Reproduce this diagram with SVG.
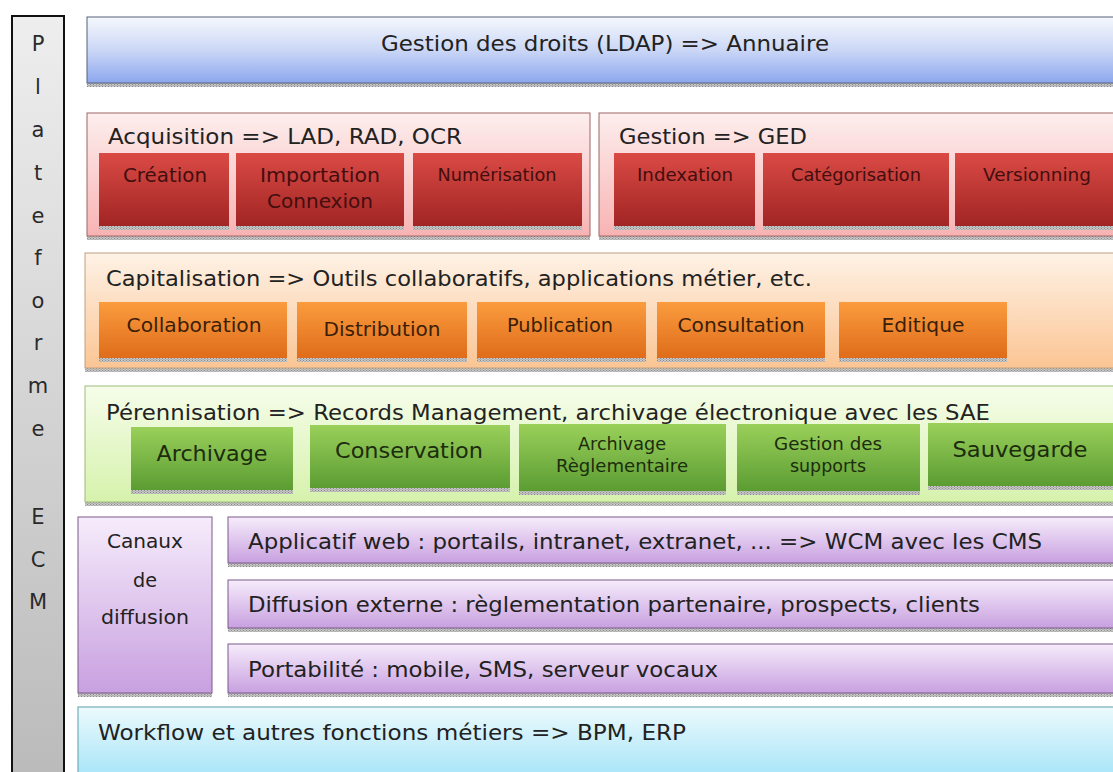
<svg xmlns="http://www.w3.org/2000/svg" width="1113" height="772" viewBox="0 0 1113 772">
<defs>
<style>
.t{font-family:"DejaVu Sans","Liberation Sans",sans-serif;fill:#222}
.tm{text-anchor:middle}
.lbl{font-family:"DejaVu Sans","Liberation Sans",sans-serif;text-anchor:middle}
.red{fill:#420e0e}
.org{fill:#3b1e08}
.grn{fill:#1c2c0e}
.side{font-family:"DejaVu Sans","Liberation Sans",sans-serif;font-size:21px;fill:#2a2a2a;text-anchor:middle}
.sh{fill:url(#dots)}
</style>
<pattern id="dots" width="3" height="2" patternUnits="userSpaceOnUse">
<rect width="3" height="2" fill="#c8c8c8"/>
<rect x="0" y="0" width="1" height="1" fill="#8a8a8a"/>
<rect x="1.5" y="1" width="1" height="1" fill="#9a9a9a"/>
</pattern>
<linearGradient id="gGray" x1="0" y1="0" x2="0" y2="1"><stop offset="0" stop-color="#eeeeee"/><stop offset="1" stop-color="#bababa"/></linearGradient>
<linearGradient id="gBlue" x1="0" y1="0" x2="0" y2="1"><stop offset="0" stop-color="#f6f8fd"/><stop offset="0.5" stop-color="#cbd7f6"/><stop offset="1" stop-color="#8ca7ee"/></linearGradient>
<linearGradient id="gPink" x1="0" y1="0" x2="0" y2="1"><stop offset="0" stop-color="#fdeeee"/><stop offset="1" stop-color="#f8b3b3"/></linearGradient>
<linearGradient id="gRed" x1="0" y1="0" x2="0" y2="1"><stop offset="0" stop-color="#db4a45"/><stop offset="1" stop-color="#a02524"/></linearGradient>
<linearGradient id="gPeach" x1="0" y1="0" x2="0" y2="1"><stop offset="0" stop-color="#fef2e6"/><stop offset="1" stop-color="#fbc594"/></linearGradient>
<linearGradient id="gOrange" x1="0" y1="0" x2="0" y2="1"><stop offset="0" stop-color="#fb9c3e"/><stop offset="1" stop-color="#df6c1a"/></linearGradient>
<linearGradient id="gLime" x1="0" y1="0" x2="0" y2="1"><stop offset="0" stop-color="#f6fdea"/><stop offset="1" stop-color="#d6f2ac"/></linearGradient>
<linearGradient id="gGreen" x1="0" y1="0" x2="0" y2="1"><stop offset="0" stop-color="#9ad05a"/><stop offset="1" stop-color="#5b9c33"/></linearGradient>
<linearGradient id="gPurple" x1="0" y1="0" x2="0" y2="1"><stop offset="0" stop-color="#f6ecfb"/><stop offset="1" stop-color="#c8a0e0"/></linearGradient>
<linearGradient id="gCyan" x1="0" y1="0" x2="0" y2="1"><stop offset="0" stop-color="#ecfafd"/><stop offset="1" stop-color="#9de1f7"/></linearGradient>
</defs>
<rect width="1113" height="772" fill="#ffffff"/>

<g id="plateforme">
<rect x="12" y="16" width="52" height="770" fill="url(#gGray)" stroke="#111" stroke-width="2"/>
<text class="side" x="38" y="51">P</text>
<text class="side" x="38" y="94">l</text>
<text class="side" x="38" y="137">a</text>
<text class="side" x="38" y="180">t</text>
<text class="side" x="38" y="223">e</text>
<text class="side" x="38" y="265">f</text>
<text class="side" x="38" y="308">o</text>
<text class="side" x="38" y="350">r</text>
<text class="side" x="38" y="393">m</text>
<text class="side" x="38" y="436">e</text>
<text class="side" x="38" y="524">E</text>
<text class="side" x="38" y="567">C</text>
<text class="side" x="38" y="609">M</text>
</g>

<g id="droits">
<rect class="sh" x="87" y="83" width="1043" height="4"/>
<rect x="87" y="17" width="1043" height="66" fill="url(#gBlue)" stroke="#56617e" stroke-width="1"/>
<text class="t" x="381" y="51" font-size="21" textLength="448" lengthAdjust="spacingAndGlyphs">Gestion des droits (LDAP) =&gt; Annuaire</text>
</g>

<g id="acquisition">
<rect class="sh" x="87" y="236" width="503" height="4"/>
<rect x="87" y="113" width="503" height="123" fill="url(#gPink)" stroke="#a06464" stroke-width="1"/>
<text class="t" x="108" y="144" font-size="21" textLength="354" lengthAdjust="spacingAndGlyphs">Acquisition =&gt; LAD, RAD, OCR</text>
<g id="creation">
<rect class="sh" x="99" y="226" width="130" height="4"/>
<rect x="99" y="153" width="130" height="73" fill="url(#gRed)"/>
<text class="lbl red" x="165" y="182" font-size="19" textLength="84" lengthAdjust="spacingAndGlyphs">Création</text>
</g>
<g id="importation">
<rect class="sh" x="236" y="226" width="168" height="4"/>
<rect x="236" y="153" width="168" height="73" fill="url(#gRed)"/>
<text class="lbl red" x="320" y="182" font-size="19" textLength="120" lengthAdjust="spacingAndGlyphs">Importation</text>
<text class="lbl red" x="320" y="208" font-size="19" textLength="106" lengthAdjust="spacingAndGlyphs">Connexion</text>
</g>
<g id="numerisation">
<rect class="sh" x="413" y="226" width="169" height="4"/>
<rect x="413" y="153" width="169" height="73" fill="url(#gRed)"/>
<text class="lbl red" x="497" y="181" font-size="17" textLength="119" lengthAdjust="spacingAndGlyphs">Numérisation</text>
</g>
</g>

<g id="gestion">
<rect class="sh" x="599" y="236" width="531" height="4"/>
<rect x="599" y="113" width="531" height="123" fill="url(#gPink)" stroke="#a06464" stroke-width="1"/>
<text class="t" x="619" y="144" font-size="21" textLength="188" lengthAdjust="spacingAndGlyphs">Gestion =&gt; GED</text>
<g id="indexation">
<rect class="sh" x="614" y="226" width="141" height="4"/>
<rect x="614" y="153" width="141" height="73" fill="url(#gRed)"/>
<text class="lbl red" x="685" y="181" font-size="17" textLength="96" lengthAdjust="spacingAndGlyphs">Indexation</text>
</g>
<g id="categorisation">
<rect class="sh" x="763" y="226" width="186" height="4"/>
<rect x="763" y="153" width="186" height="73" fill="url(#gRed)"/>
<text class="lbl red" x="856" y="181" font-size="17" textLength="130" lengthAdjust="spacingAndGlyphs">Catégorisation</text>
</g>
<g id="versionning">
<rect class="sh" x="955" y="226" width="175" height="4"/>
<rect x="955" y="153" width="175" height="73" fill="url(#gRed)"/>
<text class="lbl red" x="1037" y="181" font-size="17" textLength="108" lengthAdjust="spacingAndGlyphs">Versionning</text>
</g>
</g>

<g id="capitalisation">
<rect class="sh" x="85" y="368" width="1045" height="4"/>
<rect x="85" y="253" width="1045" height="115" fill="url(#gPeach)" stroke="#c0a080" stroke-width="1"/>
<text class="t" x="106" y="286" font-size="22" textLength="706" lengthAdjust="spacingAndGlyphs">Capitalisation =&gt; Outils collaboratifs, applications métier, etc.</text>
<g id="collaboration">
<rect class="sh" x="99" y="358" width="188" height="4"/>
<rect x="99" y="302" width="188" height="56" fill="url(#gOrange)"/>
<text class="lbl org" x="194" y="332" font-size="20" textLength="135" lengthAdjust="spacingAndGlyphs">Collaboration</text>
</g>
<g id="distribution">
<rect class="sh" x="297" y="358" width="170" height="4"/>
<rect x="297" y="302" width="170" height="56" fill="url(#gOrange)"/>
<text class="lbl org" x="382" y="336" font-size="20" textLength="117" lengthAdjust="spacingAndGlyphs">Distribution</text>
</g>
<g id="publication">
<rect class="sh" x="477" y="358" width="169" height="4"/>
<rect x="477" y="302" width="169" height="56" fill="url(#gOrange)"/>
<text class="lbl org" x="560" y="332" font-size="20" textLength="106" lengthAdjust="spacingAndGlyphs">Publication</text>
</g>
<g id="consultation">
<rect class="sh" x="657" y="358" width="168" height="4"/>
<rect x="657" y="302" width="168" height="56" fill="url(#gOrange)"/>
<text class="lbl org" x="741" y="332" font-size="20" textLength="127" lengthAdjust="spacingAndGlyphs">Consultation</text>
</g>
<g id="editique">
<rect class="sh" x="839" y="358" width="168" height="4"/>
<rect x="839" y="302" width="168" height="56" fill="url(#gOrange)"/>
<text class="lbl org" x="923" y="332" font-size="20" textLength="83" lengthAdjust="spacingAndGlyphs">Editique</text>
</g>
</g>

<g id="perennisation">
<rect class="sh" x="85" y="502" width="1045" height="4"/>
<rect x="85" y="386" width="1045" height="116" fill="url(#gLime)" stroke="#9cbc7a" stroke-width="1"/>
<text class="t" x="106" y="420" font-size="22" textLength="884" lengthAdjust="spacingAndGlyphs">Pérennisation =&gt; Records Management, archivage électronique avec les SAE</text>
<g id="archivage">
<rect class="sh" x="131" y="490" width="162" height="4"/>
<rect x="131" y="427" width="162" height="63" fill="url(#gGreen)"/>
<text class="lbl grn" x="212" y="461" font-size="21" textLength="111" lengthAdjust="spacingAndGlyphs">Archivage</text>
</g>
<g id="conservation">
<rect class="sh" x="310" y="488" width="200" height="4"/>
<rect x="310" y="425" width="200" height="63" fill="url(#gGreen)"/>
<text class="lbl grn" x="409" y="458" font-size="21" textLength="148" lengthAdjust="spacingAndGlyphs">Conservation</text>
</g>
<g id="archivage-reglementaire">
<rect class="sh" x="519" y="491" width="207" height="4"/>
<rect x="519" y="424" width="207" height="67" fill="url(#gGreen)"/>
<text class="lbl grn" x="622" y="450" font-size="17" textLength="88" lengthAdjust="spacingAndGlyphs">Archivage</text>
<text class="lbl grn" x="622" y="472" font-size="17" textLength="132" lengthAdjust="spacingAndGlyphs">Règlementaire</text>
</g>
<g id="gestion-supports">
<rect class="sh" x="737" y="491" width="183" height="4"/>
<rect x="737" y="424" width="183" height="67" fill="url(#gGreen)"/>
<text class="lbl grn" x="828" y="450" font-size="17" textLength="108" lengthAdjust="spacingAndGlyphs">Gestion des</text>
<text class="lbl grn" x="828" y="472" font-size="17" textLength="76" lengthAdjust="spacingAndGlyphs">supports</text>
</g>
<g id="sauvegarde">
<rect class="sh" x="928" y="486" width="202" height="4"/>
<rect x="928" y="423" width="202" height="63" fill="url(#gGreen)"/>
<text class="lbl grn" x="1020" y="457" font-size="21" textLength="135" lengthAdjust="spacingAndGlyphs">Sauvegarde</text>
</g>
</g>

<g id="canaux">
<rect class="sh" x="78" y="693" width="134" height="4"/>
<rect x="78" y="517" width="134" height="176" fill="url(#gPurple)" stroke="#7a5a8a" stroke-width="1"/>
<text class="t tm" x="145" y="548" font-size="19" textLength="76" lengthAdjust="spacingAndGlyphs">Canaux</text>
<text class="t tm" x="145" y="587" font-size="19" textLength="24" lengthAdjust="spacingAndGlyphs">de</text>
<text class="t tm" x="145" y="624" font-size="19" textLength="88" lengthAdjust="spacingAndGlyphs">diffusion</text>
</g>

<g id="applicatif-web">
<rect class="sh" x="228" y="563" width="902" height="4"/>
<rect x="228" y="517" width="902" height="46" fill="url(#gPurple)" stroke="#7a5a8a" stroke-width="1"/>
<text class="t" x="248" y="549" font-size="22" textLength="794" lengthAdjust="spacingAndGlyphs">Applicatif web : portails, intranet, extranet, ... =&gt; WCM avec les CMS</text>
</g>

<g id="diffusion-externe">
<rect class="sh" x="228" y="628" width="902" height="4"/>
<rect x="228" y="580" width="902" height="48" fill="url(#gPurple)" stroke="#7a5a8a" stroke-width="1"/>
<text class="t" x="248" y="612" font-size="22" textLength="732" lengthAdjust="spacingAndGlyphs">Diffusion externe : règlementation partenaire, prospects, clients</text>
</g>

<g id="portabilite">
<rect class="sh" x="228" y="693" width="902" height="4"/>
<rect x="228" y="644" width="902" height="49" fill="url(#gPurple)" stroke="#7a5a8a" stroke-width="1"/>
<text class="t" x="248" y="677" font-size="22" textLength="470" lengthAdjust="spacingAndGlyphs">Portabilité : mobile, SMS, serveur vocaux</text>
</g>

<g id="workflow">
<rect x="78" y="707" width="1052" height="80" fill="url(#gCyan)" stroke="#5e9ea8" stroke-width="1"/>
<text class="t" x="98" y="740" font-size="22" textLength="588" lengthAdjust="spacingAndGlyphs">Workflow et autres fonctions métiers =&gt; BPM, ERP</text>
</g>

<g id="connectors"/>
</svg>
